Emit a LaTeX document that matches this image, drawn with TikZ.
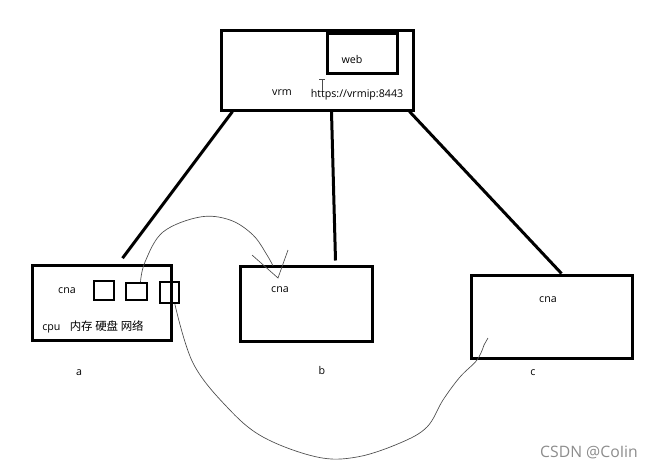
\documentclass[tikz,border=0pt]{standalone}
\usepackage{fontspec}
\setmainfont{Open Sans}
\newfontfamily\cjk{Noto Sans CJK SC}
\begin{document}
\begin{tikzpicture}[x=0.75pt,y=-0.75pt,
  box/.style={draw,line width=2.25pt,inner sep=0pt,minimum width=#1},
  sbox/.style={draw,line width=1.5pt,inner sep=0pt},
  conn/.style={line width=2.25pt},
  wire/.style={line width=0.5pt,draw=black!70},
  lbl/.style={font=\fontsize{8}{9}\selectfont,inner sep=0pt}]
\useasboundingbox (0,0) rectangle (662,469);
% boxes
\node[box=144pt,minimum height=60pt] (vrm) at (317,70) {};
\node[box=52.5pt,minimum height=30pt] (web) at (362,53) {};
\node[box=104.25pt,minimum height=56.25pt] (a) at (101.5,302.5) {};
\node[sbox,minimum width=15pt,minimum height=14.25pt] (s1) at (104,290.5) {};
\node[sbox,minimum width=15.75pt,minimum height=12.75pt] (s2) at (136.5,291.5) {};
\node[sbox,minimum width=14.25pt,minimum height=15.75pt] (s3) at (169.5,292.5) {};
\node[box=99pt,minimum height=56.25pt] (b) at (306,303.5) {};
\node[box=120.75pt,minimum height=62.25pt] (c) at (551.5,316.5) {};
% texts
\node[lbl] (tweb) at (352,59) {web};
\node[lbl] (tvrm) at (282,93) {vrm};
\node[lbl] (turl) at (357,95) {https://vrmip:8443};
\node[lbl] (tcnaa) at (67,291) {cna};
\node[lbl,anchor=west] (tcpu) at (42,327) {cpu\hspace{7pt}{\cjk\fontsize{8.6}{9}\selectfont 内存 硬盘 网络}};
\node[lbl] (tcnab) at (280,290) {cna};
\node[lbl] (tcnac) at (548,300) {cna};
\node[lbl] (la) at (79,373) {a};
\node[lbl] (lb) at (322,370) {b};
\node[lbl] (lc) at (533,373) {c};
\node[font=\fontsize{11.8}{13}\selectfont,text=black!45,inner sep=0pt] (wm) at (589,452) {CSDN @CoIin};
% cursor
\coordinate (cur) at (322,79);
\draw[line width=0.5pt,draw=black!70] ([xshift=-2.2pt]cur) -- ([xshift=2.2pt]cur) (cur) -- ++(0,11);
% connectors
\draw[conn] ([xshift=9.75pt]vrm.south west) -- ([xshift=69pt,yshift=4pt]a.north west);
\draw[conn] ([xshift=84pt]vrm.south west) -- ([xshift=72.75pt,yshift=3pt]b.north west);
\draw[conn] ([xshift=142.5pt]vrm.south west) -- ([xshift=69pt]c.north west);
% hand-drawn wires
\coordinate (t1) at (278,278);
\coordinate (t2) at (484,345);
\draw[wire] plot[smooth,tension=0.6] coordinates {([xshift=3pt]s2.north) (145,262) (163,232) (200,217) (230,220) (253,235) (267,255) (273,266)};
\draw[wire] (252,255) -- (t1) -- (288,250);
\draw[wire] plot[smooth,tension=0.6] coordinates {([xshift=4pt]s3.south) (193,363) (227,407) (263,437) (317,457) (357,457) (400,443) (427,427) (443,400) (460,377) (477,360) (t2)};
\draw[wire] (t2) -- (488,338);
\end{tikzpicture}
\end{document}
